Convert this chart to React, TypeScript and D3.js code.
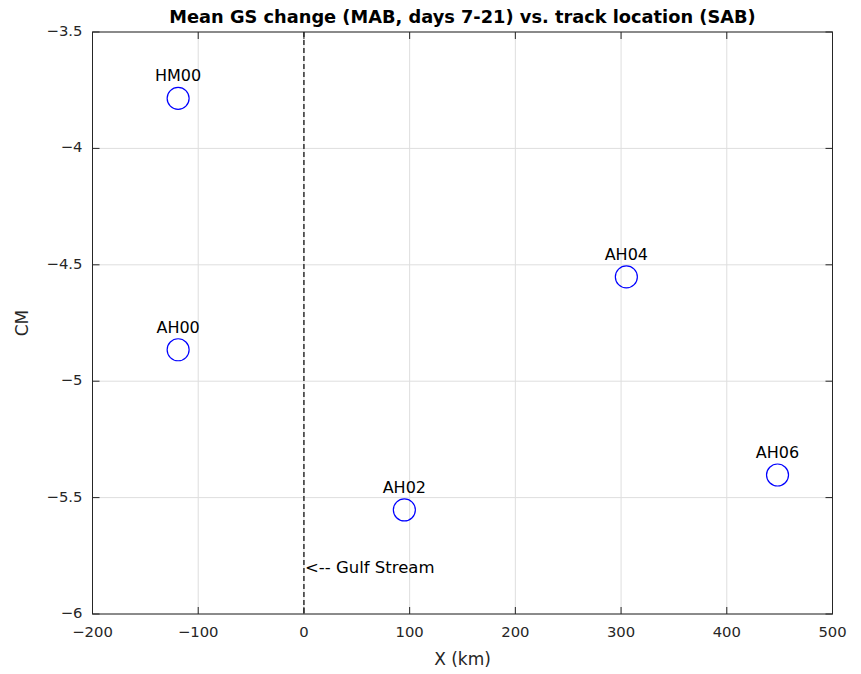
import React from "react";
import * as d3 from "d3";

const names = ["HM00", "AH00", "AH02", "AH04", "AH06"];
const xKm = [-119, -119, 95, 305, 448];
const cmValues = [-3.785, -4.865, -5.553, -4.552, -5.403];
const xTicks = [-200, -100, 0, 100, 200, 300, 400, 500];
const yTicks = [-3.5, -4, -4.5, -5, -5.5, -6];
const frontLabel = { x: 0, y: -5.8, text: "<-- Gulf Stream" };

const W = 861;
const H = 674;
const M = { left: 92.5, right: 832.5, top: 32, bottom: 614 };
const FONT = "DejaVu Sans, sans-serif";
const AXIS = "#262626";

const fmt = (v: number) => String(v).replace("-", "\u2212");

export default function App() {
  const x = d3.scaleLinear().domain([-200, 500]).range([M.left, M.right]);
  const y = d3.scaleLinear().domain([-6, -3.5]).range([M.bottom, M.top]);
  const tick = 7;

  return (
    <svg width={W} height={H} style={{ position: "absolute", left: 0, top: 0, background: "#fff" }}>
      <rect x={0} y={0} width={W} height={H} fill="#fff" />
      {/* grid */}
      {xTicks.map((t) => (
        <line key={"gx" + t} x1={x(t)} x2={x(t)} y1={M.top} y2={M.bottom} stroke="#dedede" strokeWidth={1} />
      ))}
      {yTicks.map((t) => (
        <line key={"gy" + t} x1={M.left} x2={M.right} y1={y(t)} y2={y(t)} stroke="#dedede" strokeWidth={1} />
      ))}
      {/* Gulf Stream front */}
      <line x1={x(0)} x2={x(0)} y1={M.top} y2={M.bottom} stroke="#000" strokeWidth={1.2} strokeDasharray="5,3" />
      <text x={x(frontLabel.x) + 1} y={y(frontLabel.y) + 1.5} dominantBaseline="middle" fontFamily={FONT} fontSize={16.5} fill="#000">
        {frontLabel.text}
      </text>
      {/* ticks on all four sides */}
      {xTicks.map((t) => (
        <g key={"tx" + t}>
          <line x1={x(t)} x2={x(t)} y1={M.bottom} y2={M.bottom - tick} stroke={AXIS} />
          <line x1={x(t)} x2={x(t)} y1={M.top} y2={M.top + tick} stroke={AXIS} />
          <text x={x(t)} y={M.bottom + 19} textAnchor="middle" dominantBaseline="middle" fontFamily={FONT} fontSize={14.8} fill={AXIS}>
            {fmt(t)}
          </text>
        </g>
      ))}
      {yTicks.map((t) => (
        <g key={"ty" + t}>
          <line x1={M.left} x2={M.left + tick} y1={y(t)} y2={y(t)} stroke={AXIS} />
          <line x1={M.right} x2={M.right - tick} y1={y(t)} y2={y(t)} stroke={AXIS} />
          <text x={M.left - 10} y={y(t)} textAnchor="end" dominantBaseline="middle" fontFamily={FONT} fontSize={14.8} fill={AXIS}>
            {fmt(t)}
          </text>
        </g>
      ))}
      <rect x={M.left} y={M.top} width={M.right - M.left} height={M.bottom - M.top} fill="none" stroke={AXIS} strokeWidth={1} />
      {/* points */}
      {names.map((n, i) => (
        <g key={n}>
          <circle cx={x(xKm[i])} cy={y(cmValues[i])} r={11} fill="none" stroke="#0000ff" strokeWidth={1.2} />
          <text x={x(xKm[i])} y={y(cmValues[i]) - 21.5} textAnchor="middle" dominantBaseline="middle" fontFamily={FONT} fontSize={16} fill="#000">
            {n}
          </text>
        </g>
      ))}
      {/* labels */}
      <text x={(M.left + M.right) / 2} y={18} textAnchor="middle" dominantBaseline="middle" fontFamily={FONT} fontSize={17.8} fontWeight="bold" fill="#000">
        Mean GS change (MAB, days 7-21) vs. track location (SAB)
      </text>
      <text x={(M.left + M.right) / 2} y={660} textAnchor="middle" dominantBaseline="middle" fontFamily={FONT} fontSize={17} fill={AXIS}>
        X (km)
      </text>
      <text transform={`translate(23,${(M.top + M.bottom) / 2}) rotate(-90)`} textAnchor="middle" dominantBaseline="middle" fontFamily={FONT} fontSize={17} fill={AXIS}>
        CM
      </text>
    </svg>
  );
}
